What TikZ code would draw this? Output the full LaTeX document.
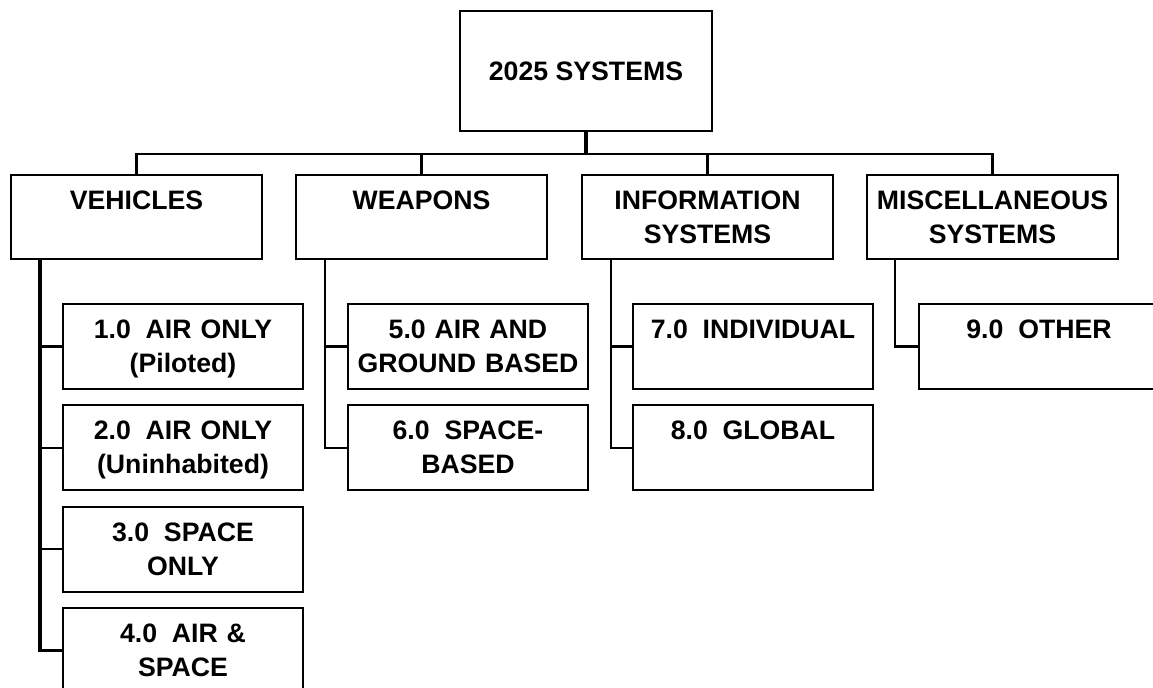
\documentclass[tikz,border=0pt]{standalone}
\usepackage{fontspec}
\setmainfont{Liberation Sans}
\usetikzlibrary{positioning}

% two spaces after the item numbers, as in the chart
\newcommand{\gap}{\hspace{0.556em}}

\begin{document}
\begin{tikzpicture}[
  x=0.75pt, y=-0.75pt,
  font=\bfseries\fontsize{20}{25.5}\selectfont,
  box/.style={draw, line width=1.5pt, align=center, inner sep=0pt, anchor=north west},
  head/.style={box, text width=188.25pt, text height=25.9pt, text depth=37.1pt},
  item/.style={box, text width=180pt, text height=25.9pt, text depth=37.9pt},
  link/.style={line width=1.6pt},
  trunk/.style={line width=2.4pt},
  node distance=10.7pt
]
% canvas is the 1153 x 688 px frame, y running downward
\useasboundingbox (0,0) rectangle (1153,688);
\clip (0,0) rectangle (1153,688);

% Column x-positions (left edge of the heading boxes)
\def\cA{10}
\def\cB{295}
\def\cC{581}
\def\cD{866}

% Row y-positions (top of each row)
\def\rHead{174}
\def\rItem{303}

% Root
\node[draw, line width=1.5pt, minimum width=189pt, minimum height=90pt, anchor=north west] (root) at (459,10) {2025 SYSTEMS};

% Headings
\node[head] (veh)  at (\cA,\rHead) {VEHICLES};
\node[head] (weap) at (\cB,\rHead) {WEAPONS};
\node[head] (info) at (\cC,\rHead) {INFORMATION\\SYSTEMS};
\node[head] (misc) at (\cD,\rHead) {MISCELLANEOUS\\SYSTEMS};

% Vehicles column
\node[item] (v1) at (\cA+52,\rItem) {1.0\gap AIR ONLY\\(Piloted)};
\node[item, below=of v1] (v2) {2.0\gap AIR ONLY\\(Uninhabited)};
\node[item, below=of v2] (v3) {3.0\gap SPACE\\ONLY};
\node[item, below=of v3] (v4) {4.0\gap AIR \&\\SPACE};

% Weapons column
\node[item] (w1) at (\cB+52,\rItem) {5.0 AIR AND\\GROUND BASED};
\node[item, below=of w1] (w2) {6.0\gap SPACE-\\BASED};

% Information systems column
\node[item] (i1) at (\cC+51,\rItem) {7.0\gap INDIVIDUAL};
\node[item, below=of i1] (i2) {8.0\gap GLOBAL};

% Miscellaneous column
\node[item] (m1) at (\cD+52,\rItem) {9.0\gap OTHER};

% Bus from the root to the headings
\draw[trunk] (root.south) -- ++(0,22) coordinate (hub);
\draw[link] (veh.north) |- (hub) -| (misc.north);
\draw[link] (weap.north) -- (weap.north |- hub);
\draw[link] (info.north) -- (info.north |- hub);

% Trunks down each column
\draw[trunk] ([xshift=22.5pt]veh.south west) coordinate (vt) |- (v4.west);
\foreach \n in {v1,v2,v3}
  \draw[link] (\n.west) -- (\n.west -| vt);
\draw[link] ([xshift=22.5pt]weap.south west) coordinate (wt) |- (w2.west);
\draw[link] (w1.west) -- (w1.west -| wt);
\draw[link] ([xshift=22.5pt]info.south west) coordinate (it) |- (i2.west);
\draw[link] (i1.west) -- (i1.west -| it);
\draw[link] ([xshift=22pt]misc.south west) |- (m1.west);

\end{tikzpicture}
\end{document}
